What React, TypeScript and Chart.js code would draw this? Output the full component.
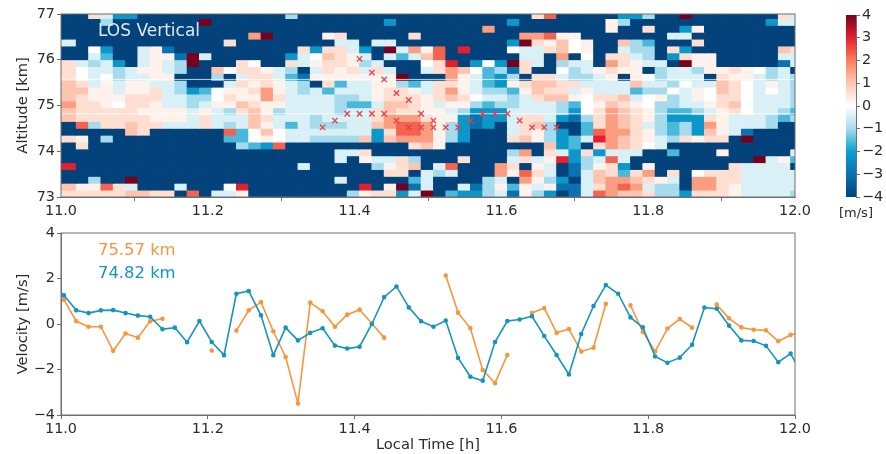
import React, { useEffect, useRef } from "react";
import { Chart, registerables } from "chart.js";

Chart.register(...registerables);

// ---------- data ----------
const FIRST_TIME = 11.004;
const TIME_STEP = 0.01678;
const ALT_BASE = 73;
const ALT_STEP = 0.15;

const CODE_VALUES: Record<string, number> = {
  "#": -4, b: -3, c: -2.2, d: -1.6, e: -1, f: -0.42, w: 0,
  g: 0.25, h: 0.6, i: 1.05, j: 1.6, k: 2.3, l: 3, m: 4,
};

// Line-of-sight velocity, one string per altitude row (top row first), one code per minute column.
const heatRows = [
  "##hfcc#### ########e# ########## ########hk #####cce## m#######hf",
  "###e###### #m######## ######c### ######c### ####ge#### #######cff",
  "########## ########## ########## ####j##### ####g##h## cg########",
  "########## #####jm### #gh#####h# #######jjk gg#######f f#########",
  "f######### ###h###### ##ff#ff### ######cmhg iwg##ied## #h########",
  "##wc##fgb# #########h chhfc#mfjg k#l###wffh iwg##fee#h c#######ih",
  "##fd##fggb mf######cf wihgf#fdfi k######ff# j#w#hhfe#c hgg#####ff",
  "hfefc#fgfe m###hw##hf ghhgef###w hl#cwcmhf# eff#jhgff# mgg#####bf",
  "hwffefggfe ##iwhhgfe# fhghfhf##f hjiwdebh## wefghgg#ef fegghgwef#",
  "hwfweffgg# ##e#fhhfdb gggggggm## #jgfdce#hh feefg#gwef ff#hggfefe",
  "ihfgfggffe ###fhghgfe #hdffggedf hhgfdcghii hhffffiffe wffihwfgfe",
  "iiggfgghfe cdwgghjgfe fdfffghhgf hjgfeedgih hfgfffdeew fgwihwfwfe",
  "ihggghhhff eewhggjhff ffeefghhhg hihwffefhi igwhhifwge fgwhhwfffe",
  "jhhgwhhgff efggihggff ffeddfiihg fggedeefff edwgihgwee ffghiwfffe",
  "ihhhhhgggg fgfehigeff ffeffhihhg gfecccffff ecwhjihged defghwffed",
  "ihhhhhhggg fhfffihfff effffhjjjh ggcbccfhhf cbehjihgec cchgfffede",
  "#kehhihhff fhfefigfdf eeeffijkkj gecbc#fhie ##dhjihfed ecjgfffe##",
  "#####ih### ###kdwiwff fffffchkkj gec###fhge c#dkjjhged ecigfb####",
  "hg#e###### ###ddwgwff eeeeicijjj gec###hige cdfljihgfe hghh#m####",
  "#h######## ####edck## ########hi g########i cd#hjihwf# ##########",
  "########## ########## ##ffh##### ######ej#h fchcfff##d ###g#####f",
  "########## ########## ##f#gffhe# ##h###fhfg lcefkf#### ######mfgd",
  "l######### #########f #####eghi# fk###jh#gf #beghc#g## ####hffff#",
  "########## ########## ######hh#f ef###jgkhf #bfihdhj#h #whhhfffff",
  "##e##m#### ########## ##f#####df ####ef#jge c#fijjihgf #jjhhfffff",
  "iggkhf###f ###wl##### ####l#gmbf ##fbegdgfg bbfhjkjfee #jjhgfffff",
  "hhhhhiihh# k#ffg##### ###eghhcfm #dccefbgec #bfkjiihee chhhgffffe",
];

const crossColumns = [21, 22, 23, 24, 25, 26, 27, 28, 29, 29, 28, 27, 26, 25, 24, 30, 30, 31, 32, 33, 34, 35, 36, 37, 38, 39, 40];
const crossAltitudes = [74.52, 74.67, 74.82, 74.82, 74.82, 74.82, 74.67, 74.52, 74.52, 74.82, 75.12, 75.27, 75.57, 75.72, 76.02, 74.67, 74.52, 74.52, 74.52, 74.67, 74.82, 74.82, 74.82, 74.67, 74.52, 74.52, 74.52];
const markedAltitudes = [75.57, 74.82];

// Values for columns -1 .. 60 (first and last sit just outside the axis and are clipped).
const velocity7482 = [1.67, 1.26, 0.6, 0.48, 0.6, 0.61, 0.48, 0.37, 0.32, -0.23, -0.16, -0.8, 0.13, -0.79, -1.37, 1.33, 1.45, 0.38, -1.37, -0.16, -0.72, -0.39, -0.19, -0.95, -1.08, -1.0, 0.0, 1.18, 1.65, 0.73, 0.12, -0.12, 0.15, -1.49, -2.32, -2.49, -0.79, 0.13, 0.2, 0.34, -0.53, -1.36, -2.22, -0.44, 0.79, 1.71, 1.33, 0.29, -0.15, -1.43, -1.7, -1.48, -0.91, 0.72, 0.67, -0.07, -0.72, -0.75, -0.96, -1.68, -1.3, -2.3];
const velocity7557: (number | null)[] = [1.4, 1.07, 0.12, -0.12, -0.12, -1.18, -0.42, -0.6, 0.12, 0.23, null, null, null, -1.17, null, -0.29, 0.6, 0.96, -0.32, -1.45, -3.49, 0.94, 0.56, -0.12, 0.41, 0.63, 0.02, -0.6, null, null, null, null, 2.13, 0.5, -0.19, -2.02, -2.6, -1.36, null, 0.48, 0.7, -0.39, -0.22, -1.21, -1.04, 0.89, null, 0.82, -0.35, -1.21, -0.2, 0.22, -0.16, null, 0.85, 0.25, -0.15, -0.25, -0.28, -0.76, -0.48, -0.35];

const colorbarValues = [-4, -3, -2, -1, 0, 1, 2, 3, 4];
const colorbarColors = ["#03427a", "#0b72b0", "#0ba0cf", "#a5dbec", "#ffffff", "#fdc9b4", "#fa7f5e", "#e32030", "#78001e"];

// ---------- helpers ----------
const TICK_FONT = { family: "'DejaVu Sans'", size: 14.4 };
const TITLE_FONT = { family: "'DejaVu Sans'", size: 14.7 };
const INK = "#2b2b2b";
const SPINE = "#6f6f6f";
const ORANGE = "#f7963a";
const BLUE = "#1495bd";
const CROSS = "#ee3b48";

const columnTime = (k: number) => FIRST_TIME + TIME_STEP * k;

function hexToRgb(hex: string) {
  return [1, 3, 5].map((i) => parseInt(hex.slice(i, i + 2), 16));
}
function colorFor(v: number) {
  const clamped = Math.max(-4, Math.min(4, v));
  const i = Math.min(7, Math.floor(clamped + 4));
  const f = clamped + 4 - i;
  const a = hexToRgb(colorbarColors[i]);
  const b = hexToRgb(colorbarColors[i + 1]);
  const c = a.map((x, n) => Math.round(x + (b[n] - x) * f));
  return `rgb(${c[0]},${c[1]},${c[2]})`;
}
const minusTick = (v: number | string, digits = 0) =>
  Number(v).toFixed(digits).replace("-", "\u2212");

const framePlugin = {
  id: "frame",
  afterDatasetsDraw(chart: any) {
    const { ctx, chartArea: a } = chart;
    ctx.save();
    ctx.strokeStyle = SPINE;
    ctx.lineWidth = 1;
    ctx.strokeRect(a.left, a.top, a.right - a.left, a.bottom - a.top);
    ctx.restore();
  },
};

type Note = { text: string; x: number; y: number; color: string; size: number };
const notesPlugin = (notes: Note[]) => ({
  id: "notes",
  afterDraw(chart: any) {
    const { ctx } = chart;
    ctx.save();
    ctx.textBaseline = "middle";
    for (const n of notes) {
      ctx.font = `${n.size}px 'DejaVu Sans'`;
      ctx.fillStyle = n.color;
      ctx.fillText(n.text, n.x, n.y);
    }
    ctx.restore();
  },
});

const axisGrid = { display: true, drawOnChartArea: false, drawTicks: true, tickLength: 4, tickColor: SPINE };
const fixedX = (h: number) => (s: any) => {
  s.height = h;
  s.paddingLeft = 0;
  s.paddingRight = 0;
};
const fixedY = (w: number) => (s: any) => {
  s.width = w;
  s.paddingTop = 0;
  s.paddingBottom = 0;
};

function timeAxis(height: number, title?: string) {
  return {
    type: "linear",
    min: 11,
    max: 12,
    offset: false,
    afterFit: fixedX(height),
    grid: axisGrid,
    border: { color: SPINE },
    ticks: {
      stepSize: 0.2,
      font: TICK_FONT,
      color: INK,
      maxRotation: 0,
      padding: 2,
      callback: (v: any) => minusTick(v, 1),
    },
    title: title
      ? { display: true, text: title, font: TITLE_FONT, color: INK, padding: { top: 3, bottom: 0 } }
      : { display: false },
  };
}

function valueAxis(min: number, max: number, step: number, title: string) {
  return {
    type: "linear",
    min,
    max,
    afterFit: fixedY(61),
    grid: axisGrid,
    border: { color: SPINE },
    ticks: { stepSize: step, font: TICK_FONT, color: INK, padding: 2, callback: (v: any) => minusTick(v) },
    title: { display: true, text: title, font: TITLE_FONT, color: INK, padding: { top: 14, bottom: 2 } },
  };
}

function heatmapDatasets() {
  const sets: any[] = [];
  heatRows.forEach((row, r) => {
    const codes = row.replace(/ /g, "");
    const allCodes = codes[0] + codes; // the clipped column before the first one repeats it
    const lo = ALT_BASE + ALT_STEP * (heatRows.length - 1 - r);
    const cells = Array.from(allCodes).map((code, i) => ({
      x: columnTime(i - 1) + TIME_STEP / 2,
      y: [lo, lo + ALT_STEP],
      v: CODE_VALUES[code],
    }));
    sets.push({
      type: "bar",
      order: 10,
      data: cells,
      backgroundColor: cells.map((c) => colorFor(c.v)),
      borderWidth: 0,
      inflateAmount: 0.4,
      barPercentage: 1,
      categoryPercentage: 1,
      grouped: false,
    });
  });
  return sets;
}

const CHART_DEFAULTS = {
  animation: false as const,
  responsive: false,
  events: [] as string[],
};

export default function App() {
  const topRef = useRef<HTMLCanvasElement>(null);
  const barRef = useRef<HTMLCanvasElement>(null);
  const lineRef = useRef<HTMLCanvasElement>(null);

  useEffect(() => {
    const top = new Chart(topRef.current as any, {
      type: "bar",
      data: {
        datasets: [
          ...markedAltitudes.map((alt) => ({
            type: "line",
            order: 2,
            data: [
              { x: 11, y: alt },
              { x: 12, y: alt },
            ],
            borderColor: "rgba(255,255,255,0.75)",
            borderWidth: 1,
            pointRadius: 0,
          })),
          {
            type: "scatter",
            order: 1,
            data: crossColumns.map((k, i) => ({ x: columnTime(k), y: crossAltitudes[i] })),
            pointStyle: "crossRot",
            pointRadius: 3.8,
            borderColor: CROSS,
            borderWidth: 1.3,
            backgroundColor: CROSS,
            showLine: false,
          },
          ...heatmapDatasets(),
        ] as any,
      },
      options: {
        ...CHART_DEFAULTS,
        layout: { padding: { top: 14, right: 25, left: 0, bottom: 0 } },
        plugins: { legend: { display: false }, tooltip: { enabled: false } },
        scales: {
          x: timeAxis(28),
          y: valueAxis(73, 77, 1, "Altitude [km]"),
        },
      } as any,
      plugins: [framePlugin, notesPlugin([{ text: "LOS Vertical", x: 98, y: 32, color: "#dbe9f1", size: 17 }])] as any,
    });

    const colorbar = new Chart(barRef.current as any, {
      type: "bar",
      data: {
        labels: [""],
        datasets: [
          {
            data: [[colorbarValues[0], colorbarValues[colorbarValues.length - 1]]],
            barPercentage: 1,
            categoryPercentage: 1,
            borderWidth: 0,
            backgroundColor: (ctx: any) => {
              const { chart } = ctx;
              const a = chart.chartArea;
              if (!a) return colorbarColors[4];
              const g = chart.ctx.createLinearGradient(0, a.bottom, 0, a.top);
              colorbarColors.forEach((c, i) => g.addColorStop(i / (colorbarColors.length - 1), c));
              return g;
            },
          },
        ],
      },
      options: {
        ...CHART_DEFAULTS,
        layout: { padding: { top: 15, right: 0, left: 26, bottom: 28 } },
        plugins: { legend: { display: false }, tooltip: { enabled: false } },
        scales: {
          x: { display: false },
          y: {
            type: "linear",
            position: "right",
            min: -4,
            max: 4,
            afterFit: (s: any) => {
              s.width = 30;
              s.paddingTop = 0;
              s.paddingBottom = 0;
            },
            grid: axisGrid,
            border: { color: SPINE },
            ticks: { stepSize: 1, font: TICK_FONT, color: INK, padding: 2, callback: (v: any) => minusTick(v) },
          },
        },
      } as any,
      plugins: [notesPlugin([{ text: "[m/s]", x: 19, y: 214, color: INK, size: 13 }])] as any,
    });

    const line = new Chart(lineRef.current as any, {
      type: "line",
      data: {
        datasets: [
          {
            label: "74.82 km",
            data: velocity7482.map((y, i) => ({ x: columnTime(i - 1), y })),
            borderColor: BLUE,
            backgroundColor: BLUE,
            borderWidth: 1.6,
            pointRadius: 1.5,
            tension: 0,
          },
          {
            label: "75.57 km",
            data: velocity7557.map((y, i) => ({ x: columnTime(i - 1), y })),
            borderColor: ORANGE,
            backgroundColor: ORANGE,
            borderWidth: 1.6,
            pointRadius: 1.5,
            tension: 0,
            spanGaps: false,
          },
        ],
      },
      options: {
        ...CHART_DEFAULTS,
        layout: { padding: { top: 8, right: 25, left: 0, bottom: 0 } },
        plugins: { legend: { display: false }, tooltip: { enabled: false } },
        scales: {
          x: timeAxis(39, "Local Time [h]"),
          y: valueAxis(-4, 4, 2, "Velocity [m/s]"),
        },
      } as any,
      plugins: [
        framePlugin,
        notesPlugin([
          { text: "75.57 km", x: 98, y: 26, color: ORANGE, size: 16.4 },
          { text: "74.82 km", x: 98, y: 49, color: BLUE, size: 16.4 },
        ]),
      ] as any,
    });

    return () => {
      top.destroy();
      colorbar.destroy();
      line.destroy();
    };
  }, []);

  const place = (left: number, t: number): React.CSSProperties => ({ position: "absolute", left, top: t, display: "block" });

  return (
    <div style={{ position: "fixed", left: 0, top: 0, width: 886, height: 454, background: "#fff", overflow: "hidden", filter: "blur(0.5px)" }}>
      <canvas ref={topRef} width={820} height={225} style={place(0, 0)} />
      <canvas ref={barRef} width={66} height={225} style={place(820, 0)} />
      <canvas ref={lineRef} width={820} height={229} style={place(0, 225)} />
    </div>
  );
}
